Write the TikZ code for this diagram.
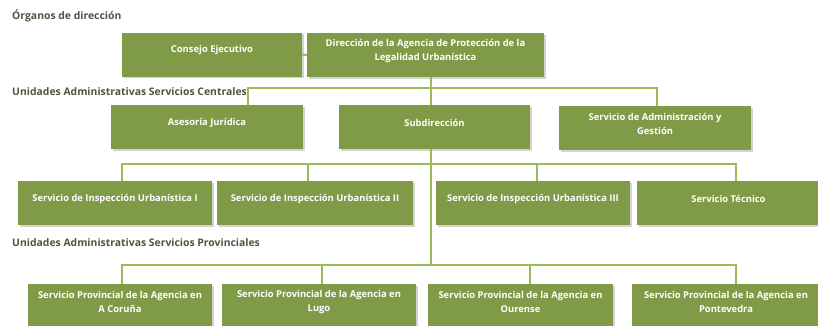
\documentclass[tikz,border=0pt]{standalone}
\usepackage{fontspec}
\setmainfont{Open Sans}
\usepackage{tikz}
\usetikzlibrary{positioning, shadows, calc}
\definecolor{oliva}{HTML}{7F9B48}
\definecolor{lineaverde}{HTML}{9BBB59}
\definecolor{titulo}{HTML}{4E5440}
\tikzstyle{caja}=[%
      rectangle, draw=none, fill=oliva,
      drop shadow={shadow xshift=1.5pt, shadow yshift=-1.5pt, opacity=0.35},
      minimum height=44pt, inner sep=0pt
]
\tikzstyle{txt}=[%
      text=white, font=\fontsize{9.4}{14}\selectfont\bfseries, align=center, yshift=4pt
]
\tikzstyle{seccion}=[%
      anchor=west, text=titulo, font=\fontsize{10.4}{12}\selectfont\bfseries, inner sep=0pt
]
\tikzstyle{linea}=[%
      draw=lineaverde, line width=2pt
]

\begin{document}
\begin{tikzpicture}[x=1pt, y=-1pt]
    \useasboundingbox (0,0) rectangle (818,325);

    % titulos de seccion
    \node[seccion] (organos)    at (12,16)  {Órganos de dirección};
    \node[seccion] (centrales)  at (12,92)  {Unidades Administrativas Servicios Centrales};
    \node[seccion] (provincias) at (12,243) {Unidades Administrativas Servicios Provinciales};

    % organos de direccion
    \node[caja, minimum width=180pt, label={[txt]center:{Consejo Ejecutivo}}] (consejo) at (212,54.5) {};
    \node[caja, minimum width=237pt, label={[txt]center:{Dirección de la Agencia de Protección de la\\Legalidad Urbanística}}] (direccion) at (425.5,55) {};

    % servicios centrales
    \node[caja, minimum width=192pt, label={[txt]center:{Asesoría Jurídica}}] (asesoria) at (207,127) {};
    \node[caja, minimum width=191pt, label={[txt]center:{Subdirección}}] (subdir) at (434.5,127) {};
    \node[caja, minimum width=192pt, label={[txt]center:{Servicio de Administración y\\Gestión}}] (admin) at (655,128) {};

    \node[caja, minimum width=194pt, label={[txt]center:{Servicio de Inspección Urbanística I}}] (siu1) at (115,203) {};
    \node[caja, minimum width=196pt, label={[txt]center:{Servicio de Inspección Urbanística II}}] (siu2) at (315,203) {};
    \node[caja, minimum width=194pt, label={[txt]center:{Servicio de Inspección Urbanística III}}] (siu3) at (533,203) {};
    \node[caja, minimum width=183pt, label={[txt]center:{Servicio Técnico}}] (tecnico) at (728.5,203) {};

    % servicios provinciales
    \node[caja, minimum width=184pt, label={[txt]center:{Servicio Provincial de la Agencia en\\A Coruña}}] (coruna) at (120,306) {};
    \node[caja, minimum width=194pt, label={[txt]center:{Servicio Provincial de la Agencia en\\Lugo}}] (lugo) at (319,306) {};
    \node[caja, minimum width=185pt, label={[txt]center:{Servicio Provincial de la Agencia en\\Ourense}}] (ourense) at (520.5,306) {};
    \node[caja, minimum width=188pt, label={[txt]center:{Servicio Provincial de la Agencia en\\Pontevedra}}] (pontevedra) at (726,306) {};

    % puntos de las barras
    \coordinate (eje) at (431,0);
    \coordinate (b1) at (431,88);
    \coordinate (b2) at (431,164);
    \coordinate (b3) at (431,265);

    \draw[linea] (consejo.east) -- (direccion.west);
    \draw[linea] (direccion.south -| eje) -- (subdir.north -| eje);
    \draw[linea] (subdir.south -| eje) -- (b3);
    \draw[linea] ([xshift=41pt]asesoria.north) |- (b1) -| ([xshift=2pt]admin.north);

    \draw[linea] ([xshift=7pt]siu1.north) |- (b2) -| ([xshift=7.5pt]tecnico.north);
    \draw[linea] ([xshift=-7pt]siu2.north) -- ([xshift=-7pt]siu2.north |- b2);
    \draw[linea] ([xshift=4pt]siu3.north) -- ([xshift=4pt]siu3.north |- b2);

    \draw[linea] ([xshift=2pt]coruna.north) |- (b3) -| ([xshift=10pt]pontevedra.north);
    \draw[linea] ([xshift=3pt]lugo.north) -- ([xshift=3pt]lugo.north |- b3);
    \draw[linea] ([xshift=9.5pt]ourense.north) -- ([xshift=9.5pt]ourense.north |- b3);

\end{tikzpicture}
\end{document}
